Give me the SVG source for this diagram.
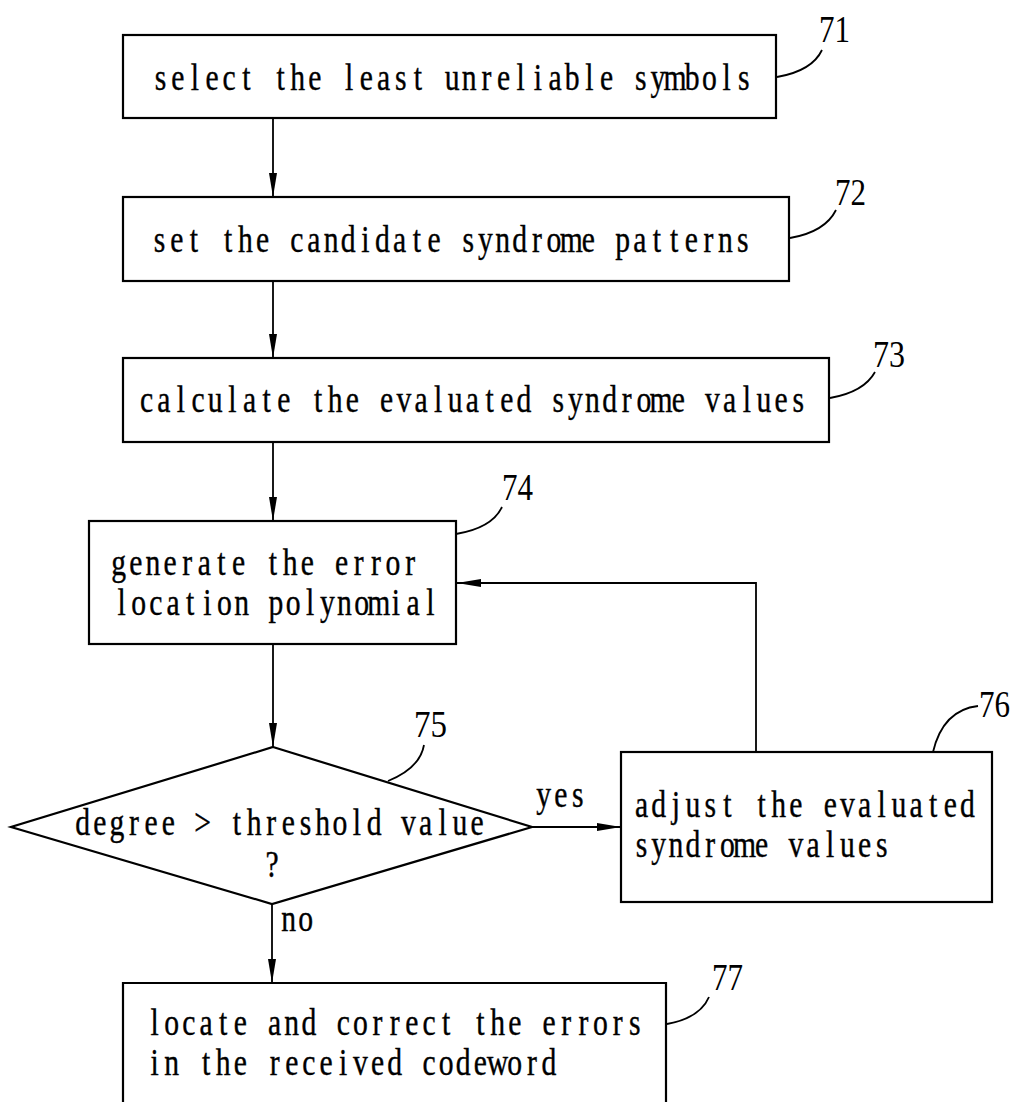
<svg xmlns="http://www.w3.org/2000/svg" width="1015" height="1102" viewBox="0 0 1015 1102">
<defs>
<style>
.box{fill:#fff;stroke:#000;stroke-width:2.2}
.ln{fill:none;stroke:#000;stroke-width:1.8}
.ld{fill:none;stroke:#000;stroke-width:1.8}
.t{font-family:"Liberation Serif","DejaVu Serif",serif;font-size:38px;fill:#000;stroke:#000;stroke-width:0.4;text-anchor:middle}
.n{font-family:"Liberation Serif","DejaVu Serif",serif;font-size:38px;fill:#000}
</style>
<marker id="ah" viewBox="0 0 24 8" markerWidth="24" markerHeight="8" refX="24" refY="4" orient="auto" markerUnits="userSpaceOnUse">
<path d="M0,0 L24,4 L0,8 Z" fill="#000"/>
</marker>
</defs>
<rect width="1015" height="1102" fill="#fff"/>
<g id="connectors">
<line class="ln" x1="273" y1="118" x2="273" y2="197" marker-end="url(#ah)"/>
<line class="ln" x1="273" y1="281" x2="273" y2="358" marker-end="url(#ah)"/>
<line class="ln" x1="273" y1="442" x2="273" y2="521" marker-end="url(#ah)"/>
<line class="ln" x1="273" y1="644" x2="273" y2="747" marker-end="url(#ah)"/>
<line class="ln" x1="272" y1="904" x2="272" y2="983" marker-end="url(#ah)"/>
<line class="ln" x1="532" y1="827" x2="621" y2="827" marker-end="url(#ah)"/>
<polyline class="ln" points="756,752 756,583 457,583" marker-end="url(#ah)"/>
<text class="t" transform="translate(535,807) scale(0.78,1)" x="10.99 32.98 54.97">yes</text>
<text class="t" transform="translate(280,931) scale(0.78,1)" x="10.99 32.98">no</text>
</g>
<g id="n71">
<rect class="box" x="123" y="35" width="653" height="83"/>
<text class="t" transform="translate(152,90) scale(0.78,1)" x="10.99 32.98 54.97 76.95 98.94 120.93 142.92 164.9 186.89 208.88 230.86 252.85 274.84 296.83 318.81 340.8 362.79 384.78 406.76 428.75 450.74 472.72 494.71 516.7 538.69 560.67 582.66 604.65 626.64 648.62 670.61 692.6 714.59 736.57 758.56 780.55 802.53 824.52 846.51">select the least unreliable symbols</text>
<path class="ld" d="M777,77 Q812,71 822,50"/>
<text class="n" x="819" y="42" textLength="31" lengthAdjust="spacingAndGlyphs">71</text>
</g>
<g id="n72">
<rect class="box" x="123" y="197" width="666" height="84"/>
<text class="t" transform="translate(151,252) scale(0.78,1)" x="10.99 32.98 54.97 76.95 98.94 120.93 142.92 164.9 186.89 208.88 230.86 252.85 274.84 296.83 318.81 340.8 362.79 384.78 406.76 428.75 450.74 472.72 494.71 516.7 538.69 560.67 582.66 604.65 626.64 648.62 670.61 692.6 714.59 736.57 758.56 780.55 802.53 824.52 846.51">set the candidate syndrome patterns</text>
<path class="ld" d="M790,238 Q825,232 836,210"/>
<text class="n" x="835" y="205" textLength="31" lengthAdjust="spacingAndGlyphs">72</text>
</g>
<g id="n73">
<rect class="box" x="123" y="358" width="706" height="84"/>
<text class="t" transform="translate(138,412) scale(0.78,1)" x="10.99 32.98 54.97 76.95 98.94 120.93 142.92 164.9 186.89 208.88 230.86 252.85 274.84 296.83 318.81 340.8 362.79 384.78 406.76 428.75 450.74 472.72 494.71 516.7 538.69 560.67 582.66 604.65 626.64 648.62 670.61 692.6 714.59 736.57 758.56 780.55 802.53 824.52 846.51">calculate the evaluated syndrome values</text>
<path class="ld" d="M830,398 Q864,392 875,372"/>
<text class="n" x="873" y="367" textLength="32" lengthAdjust="spacingAndGlyphs">73</text>
</g>
<g id="n74">
<rect class="box" x="89" y="521" width="367" height="123"/>
<text class="t" transform="translate(110,575) scale(0.78,1)" x="10.99 32.98 54.97 76.95 98.94 120.93 142.92 164.9 186.89 208.88 230.86 252.85 274.84 296.83 318.81 340.8 362.79 384.78">generate the error</text>
<text class="t" transform="translate(113,615) scale(0.78,1)" x="10.99 32.98 54.97 76.95 98.94 120.93 142.92 164.9 186.89 208.88 230.86 252.85 274.84 296.83 318.81 340.8 362.79 384.78 406.76">location polynomial</text>
<path class="ld" d="M456,534 Q492,528 502,507"/>
<text class="n" x="502" y="500" textLength="31" lengthAdjust="spacingAndGlyphs">74</text>
</g>
<g id="n75">
<polygon class="box" points="273,747 532,827 272,904 11,827"/>
<text class="t" transform="translate(74,835) scale(0.78,1)" x="10.99 32.98 54.97 76.95 98.94 120.93 142.92 164.9 186.89 208.88 230.86 252.85 274.84 296.83 318.81 340.8 362.79 384.78 406.76 428.75 450.74 472.72 494.71 516.7">degree &gt; threshold value</text>
<text class="t" transform="translate(263.4,877) scale(0.78,1)" x="10.99">?</text>
<path class="ld" d="M388,781 Q420,768 424,745"/>
<text class="n" x="414" y="737" textLength="33" lengthAdjust="spacingAndGlyphs">75</text>
</g>
<g id="n76">
<rect class="box" x="621" y="752" width="371" height="150"/>
<text class="t" transform="translate(633,817) scale(0.78,1)" x="10.99 32.98 54.97 76.95 98.94 120.93 142.92 164.9 186.89 208.88 230.86 252.85 274.84 296.83 318.81 340.8 362.79 384.78 406.76 428.75">adjust the evaluated</text>
<text class="t" transform="translate(633,857) scale(0.78,1)" x="10.99 32.98 54.97 76.95 98.94 120.93 142.92 164.9 186.89 208.88 230.86 252.85 274.84 296.83 318.81">syndrome values</text>
<path class="ld" d="M933,752 Q943,710 978,706"/>
<text class="n" x="979" y="717" textLength="31" lengthAdjust="spacingAndGlyphs">76</text>
</g>
<g id="n77">
<path class="box" d="M123,1110 L123,983 L666,983 L666,1110"/>
<text class="t" transform="translate(146,1035) scale(0.78,1)" x="10.99 32.98 54.97 76.95 98.94 120.93 142.92 164.9 186.89 208.88 230.86 252.85 274.84 296.83 318.81 340.8 362.79 384.78 406.76 428.75 450.74 472.72 494.71 516.7 538.69 560.67 582.66 604.65 626.64">locate and correct the errors</text>
<text class="t" transform="translate(146,1075) scale(0.78,1)" x="10.99 32.98 54.97 76.95 98.94 120.93 142.92 164.9 186.89 208.88 230.86 252.85 274.84 296.83 318.81 340.8 362.79 384.78 406.76 428.75 450.74 472.72 494.71 516.7">in the received codeword</text>
<path class="ld" d="M667,1024 Q700,1018 709,997"/>
<text class="n" x="712" y="990" textLength="31" lengthAdjust="spacingAndGlyphs">77</text>
</g>
</svg>
